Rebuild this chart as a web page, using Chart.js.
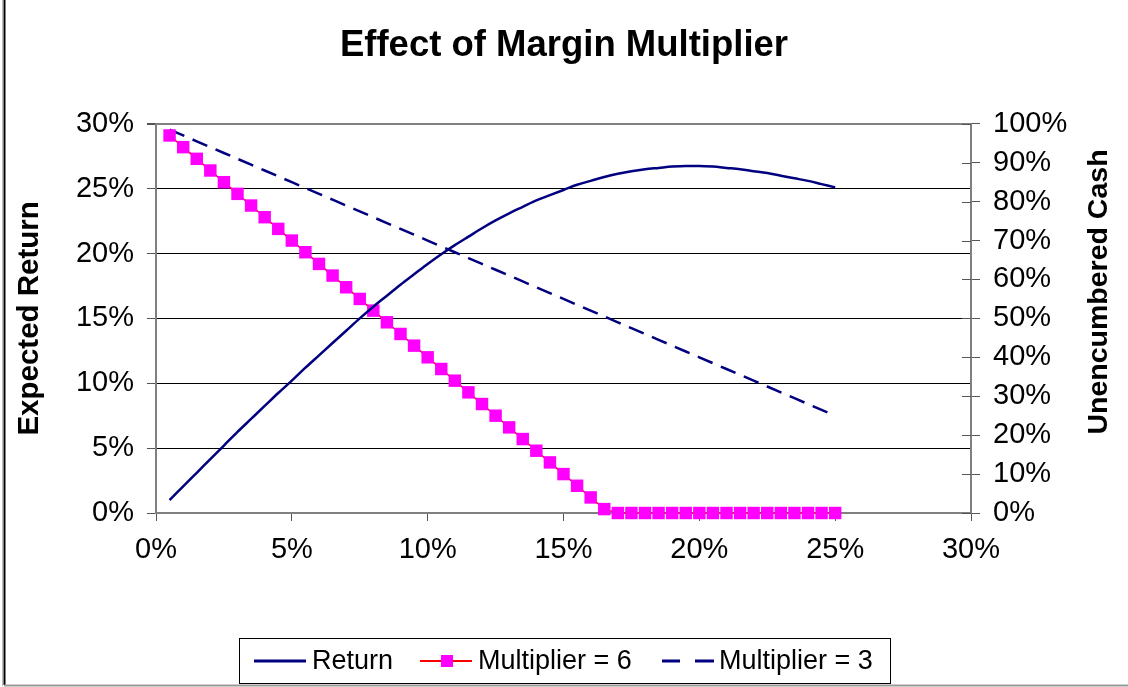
<!DOCTYPE html>
<html>
<head>
<meta charset="utf-8">
<script src="https://cdn.jsdelivr.net/npm/chart.js@4.4.1/dist/chart.umd.min.js"></script>
<style>
html,body{margin:0;padding:0;background:#fff;}
#wrap{width:1128px;height:687px;position:relative;}
</style>
</head>
<body>
<div id="wrap"><canvas id="c" width="1128" height="687"></canvas></div>
<script>
// Margin fraction (%) on the x axis
const marginPct = [0.5,1,1.5,2,2.5,3,3.5,4,4.5,5,5.5,6,6.5,7,7.5,8,8.5,9,9.5,10,10.5,11,11.5,12,12.5,13,13.5,14,14.5,15,15.5,16,16.5,17,17.5,18,18.5,19,19.5,20,20.5,21,21.5,22,22.5,23,23.5,24,24.5,25];
// Expected return (%), left axis
const expectedReturn = [1.0,2.05,3.1,4.15,5.2,6.25,7.25,8.25,9.25,10.2,11.2,12.15,13.1,14.05,15.0,15.9,16.75,17.6,18.4,19.2,19.95,20.65,21.3,21.95,22.55,23.1,23.6,24.1,24.5,24.9,25.3,25.6,25.9,26.15,26.35,26.5,26.6,26.7,26.75,26.75,26.7,26.6,26.5,26.35,26.2,26.0,25.8,25.6,25.35,25.1];
// Unencumbered cash (%), right axis
const multiplier6 = [97,94,91,88,85,82,79,76,73,70,67,64,61,58,55,52,49,46,43,40,37,34,31,28,25,22,19,16,13,10,7,4,1,0,0,0,0,0,0,0,0,0,0,0,0,0,0,0,0,0];
const multiplier3 = [98.5,97,95.5,94,92.5,91,89.5,88,86.5,85,83.5,82,80.5,79,77.5,76,74.5,73,71.5,70,68.5,67,65.5,64,62.5,61,59.5,58,56.5,55,53.5,52,50.5,49,47.5,46,44.5,43,41.5,40,38.5,37,35.5,34,32.5,31,29.5,28,26.5,25];
const seriesNames = ['Return','Multiplier = 6','Multiplier = 3'];
const titleText = 'Effect of Margin Multiplier';
const leftAxisTitle = 'Expected Return';
const rightAxisTitle = 'Unencumbered Cash';

const FONT = "'Liberation Sans', Arial, Helvetica, sans-serif";
Chart.defaults.font.family = FONT;
Chart.defaults.color = '#000';

const pts = arr => arr.map((v,i)=>({x:marginPct[i], y:v}));
const pct = v => v + '%';

const decorPlugin = {
  id:'decor',
  beforeDraw(chart){
    const ctx = chart.ctx;
    ctx.save();
    ctx.fillStyle='#fff';
    ctx.fillRect(0,0,chart.width,chart.height);
    // outer frame
    ctx.strokeStyle='#bbb'; ctx.lineWidth=1;
    ctx.beginPath(); ctx.moveTo(2.5,0); ctx.lineTo(2.5,686); ctx.stroke();
    ctx.strokeStyle='#000'; ctx.lineWidth=2;
    ctx.beginPath(); ctx.moveTo(4.5,0); ctx.lineTo(4.5,685); ctx.stroke();
    ctx.strokeStyle='#999'; ctx.lineWidth=2;
    ctx.beginPath(); ctx.moveTo(4,685.5); ctx.lineTo(1128,685.5); ctx.stroke();
    ctx.restore();
  },
  afterDraw(chart){
    const ctx = chart.ctx;
    const ca = chart.chartArea;
    const y1 = chart.scales.y1;
    ctx.save();
    // inner part of right-axis ticks
    ctx.strokeStyle='#555'; ctx.lineWidth=1;
    y1.ticks.forEach(t=>{
      const yy = Math.round(y1.getPixelForValue(t.value))+0.5;
      ctx.beginPath(); ctx.moveTo(ca.right-9, yy); ctx.lineTo(ca.right, yy); ctx.stroke();
    });
    // right axis title (reads bottom to top)
    ctx.translate(1099, 292);
    ctx.rotate(-Math.PI/2);
    ctx.font = 'bold 28.5px ' + FONT;
    ctx.fillStyle='#000';
    ctx.textAlign='center'; ctx.textBaseline='middle';
    ctx.fillText(rightAxisTitle, 0, 0);
    ctx.restore();

    // legend
    ctx.save();
    ctx.strokeStyle='#000'; ctx.lineWidth=1;
    ctx.strokeRect(239.5, 638.5, 651, 45);
    const ly = 661;
    ctx.font = '27px ' + FONT;
    ctx.fillStyle='#000'; ctx.textBaseline='middle'; ctx.textAlign='left';
    // Return
    ctx.strokeStyle='#000080'; ctx.lineWidth=3;
    ctx.beginPath(); ctx.moveTo(254, ly); ctx.lineTo(306, ly); ctx.stroke();
    ctx.fillText(seriesNames[0], 312, ly+1);
    // Multiplier = 6
    ctx.strokeStyle='#ff0000'; ctx.lineWidth=2;
    ctx.beginPath(); ctx.moveTo(420, ly); ctx.lineTo(472, ly); ctx.stroke();
    ctx.fillStyle='#ff00ff'; ctx.fillRect(441, ly-6, 12, 12);
    ctx.fillStyle='#000';
    ctx.fillText(seriesNames[1], 478, ly+1);
    // Multiplier = 3
    ctx.strokeStyle='#000080'; ctx.lineWidth=3;
    ctx.beginPath(); ctx.moveTo(662, ly); ctx.lineTo(680, ly); ctx.moveTo(695, ly); ctx.lineTo(714, ly); ctx.stroke();
    ctx.fillText(seriesNames[2], 719, ly+1);
    ctx.restore();
  }
};

new Chart(document.getElementById('c'), {
  type:'line',
  data:{
    datasets:[
      {label:seriesNames[0], data:pts(expectedReturn), yAxisID:'y', borderColor:'#000080', borderWidth:2.5, pointRadius:0, fill:false, clip:false, cubicInterpolationMode:'monotone'},
      {label:seriesNames[1], data:pts(multiplier6), yAxisID:'y1', borderColor:'#ff0000', borderWidth:1.5, pointStyle:'rect', pointRadius:8.8, pointBackgroundColor:'#ff00ff', pointBorderColor:'#ff00ff', pointBorderWidth:0, fill:false, clip:false},
      {label:seriesNames[2], data:pts(multiplier3), yAxisID:'y1', borderColor:'#000080', borderWidth:2.5, borderDash:[16,9], pointRadius:0, fill:false, clip:false}
    ]
  },
  options:{
    responsive:false,
    animation:false,
    devicePixelRatio:1,
    layout:{padding:{left:0,right:0,top:0,bottom:0}},
    plugins:{
      legend:{display:false},
      tooltip:{enabled:false},
      title:{display:true, text:titleText, color:'#000', font:{size:36.5, weight:'bold', family:FONT}, padding:{top:24,bottom:56}}
    },
    scales:{
      x:{
        type:'linear', min:0, max:30,
        ticks:{stepSize:5, callback:pct, font:{size:29}, color:'#000', padding:12, maxRotation:0, autoSkip:false},
        grid:{drawOnChartArea:false, drawTicks:true, tickLength:8, color:'#555', lineWidth:1},
        border:{color:'#808080', width:2},
        afterFit(s){ s.height = 174; }
      },
      y:{
        position:'left', min:0, max:30,
        ticks:{stepSize:5, callback:pct, font:{size:29}, color:'#000', padding:13, autoSkip:false},
        grid:{
          color:c=> (c.tick && (c.tick.value===30 || c.tick.value===0)) ? '#808080' : '#000',
          lineWidth:c=> (c.tick && c.tick.value===30) ? 2 : 1,
          tickColor:'#555', tickLength:9, drawTicks:true
        },
        border:{color:'#808080', width:2},
        title:{display:true, text:leftAxisTitle, color:'#000', font:{size:29.5, weight:'bold'}, padding:{top:12,bottom:0}},
        afterFit(s){ s.width = 156; }
      },
      y1:{
        position:'right', min:0, max:100,
        ticks:{stepSize:10, callback:pct, font:{size:29}, color:'#000', padding:13, autoSkip:false},
        grid:{drawOnChartArea:false, tickColor:'#555', tickLength:9, drawTicks:true},
        border:{color:'#808080', width:2},
        afterFit(s){ s.width = 157; }
      }
    }
  },
  plugins:[decorPlugin]
});
</script>
</body>
</html>
